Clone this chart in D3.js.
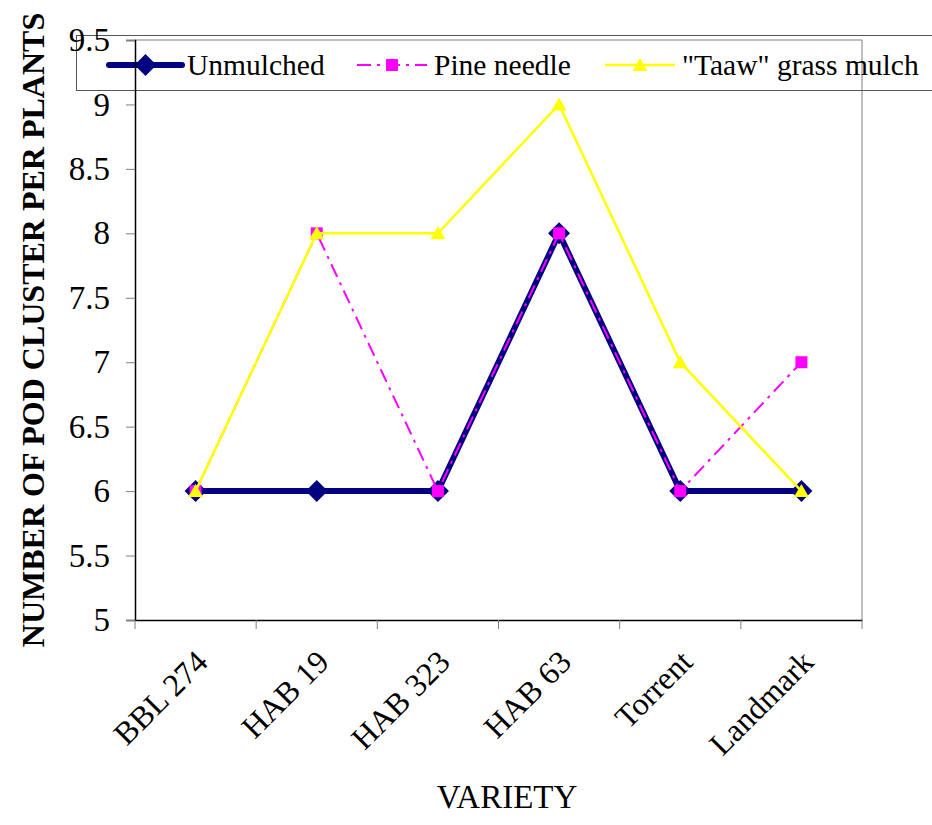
<!DOCTYPE html>
<html><head><meta charset="utf-8">
<script src="https://cdn.jsdelivr.net/npm/d3@7/dist/d3.min.js"></script>
<style>body{margin:0;background:#fff}svg{display:block}</style>
</head><body><div id="c"></div>
<script>
const categories = ["BBL 274","HAB 19","HAB 323","HAB 63","Torrent","Landmark"];
const unmulched = [6,6,6,8,6,6];
const pineNeedle = [6,8,6,8,6,7];
const taaw = [6,8,8,9,7,6];
const yTicks = [5,5.5,6,6.5,7,7.5,8,8.5,9,9.5];
const seriesNames = ["Unmulched","Pine needle","\"Taaw\" grass mulch"];

const FONT="Liberation Serif";
const W=932,H=825;
const svg=d3.select("#c").append("svg").attr("width",W).attr("height",H).attr("font-family",FONT);
const L=135,R=862,T=40,B=620;
const x=d3.scaleBand().domain(categories).range([L,R]);
const y=d3.scaleLinear().domain([5,9.5]).range([B,T]);

// plot border (gray) top & right
svg.append("line").attr("x1",L).attr("x2",R).attr("y1",T).attr("y2",T).attr("stroke","#808080");
svg.append("line").attr("x1",R).attr("x2",R).attr("y1",T).attr("y2",B).attr("stroke","#808080");

// legend box (no fill, behind labels)
const lg=svg.append("g");
lg.append("rect").attr("x",76.5).attr("y",35.5).attr("width",900).attr("height",55)
  .attr("fill","none").attr("stroke","#555");

// y axis
const yAxis=svg.append("g").attr("transform",`translate(${L},0)`)
  .call(d3.axisLeft(y).tickValues(yTicks).tickFormat(d=>String(d)).tickSize(9).tickPadding(16));
yAxis.attr("font-family",FONT);
yAxis.select(".domain").attr("stroke","#000").attr("stroke-width",1.5);
yAxis.selectAll(".tick line").attr("stroke","#808080");
yAxis.selectAll("text").attr("font-size",33).attr("fill","#000").attr("font-family",FONT);

// x axis
const xAxis=svg.append("g").attr("transform",`translate(0,${B})`)
  .call(d3.axisBottom(x).tickSize(0).tickPadding(0));
xAxis.attr("font-family",FONT);
xAxis.select(".domain").attr("stroke","#000").attr("stroke-width",1.5);
xAxis.selectAll(".tick line").remove();
const bounds=categories.map(c=>x(c)).concat([R]);
svg.append("g").selectAll("line").data(bounds).join("line")
  .attr("x1",d=>d).attr("x2",d=>d).attr("y1",B).attr("y2",B+9).attr("stroke","#808080");
xAxis.selectAll(".tick text")
  .attr("font-size",32).attr("fill","#000").attr("font-family",FONT)
  .attr("text-anchor","end").attr("dy",0)
  .attr("transform","translate(14,44) rotate(-45)");

// titles
svg.append("text").attr("x",507).attr("y",808).attr("text-anchor","middle")
  .attr("font-family",FONT).attr("font-size",33).text("VARIETY");
svg.append("text").attr("transform","translate(44,330) rotate(-90)").attr("text-anchor","middle")
  .attr("font-family",FONT).attr("font-size",32).attr("font-weight","bold").text("NUMBER OF POD CLUSTER PER PLANTS");

const cx=d=>x(d)+x.bandwidth()/2;
const line=d3.line().x((d,i)=>cx(categories[i])).y(d=>y(d));

const series=[
  {name:seriesNames[0],data:unmulched,color:"#000080",w:6,dash:null,marker:"diamond"},
  {name:seriesNames[1],data:pineNeedle,color:"#FF00FF",w:2,dash:"14,6,3,6",marker:"square"},
  {name:seriesNames[2],data:taaw,color:"#FFFF00",w:2.5,dash:null,marker:"triangle"}
];
function markerPath(m){
  if(m==="diamond") return "M0,-11L11,0L0,11L-11,0Z";
  if(m==="square") return "M-6,-6H6V6H-6Z";
  return "M0,-7L7.5,6H-7.5Z";
}
series.forEach(s=>{
  svg.append("path").datum(s.data).attr("d",line).attr("fill","none")
    .attr("stroke",s.color).attr("stroke-width",s.w).attr("stroke-dasharray",s.dash)
    .attr("stroke-linejoin","miter");
  svg.append("g").selectAll("path").data(s.data).join("path")
    .attr("transform",(d,i)=>`translate(${cx(categories[i])},${y(d)})`)
    .attr("d",markerPath(s.marker)).attr("fill",s.color);
});

// legend entries
const items=[{s:series[0],x1:109,x2:182,tx:187},{s:series[1],x1:357,x2:427,tx:434},{s:series[2],x1:605,x2:675,tx:682}];
const ly=65;
items.forEach(it=>{
  lg.append("line").attr("x1",it.x1).attr("x2",it.x2).attr("y1",ly).attr("y2",ly)
    .attr("stroke",it.s.color).attr("stroke-width",it.s.w).attr("stroke-dasharray",it.s.dash)
    .attr("stroke-linecap",it.s.w>4?"round":"butt");
  lg.append("path").attr("transform",`translate(${(it.x1+it.x2)/2},${ly})`)
    .attr("d",markerPath(it.s.marker)).attr("fill",it.s.color);
  lg.append("text").attr("x",it.tx).attr("y",ly+10).attr("font-family",FONT).attr("font-size",29.5).text(it.s.name);
});
</script></body></html>
